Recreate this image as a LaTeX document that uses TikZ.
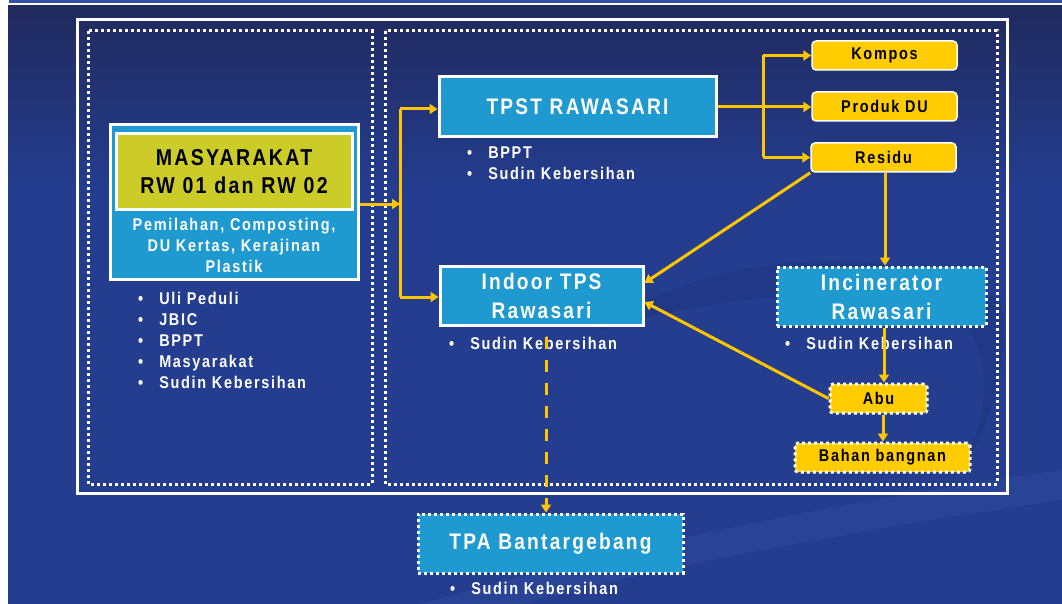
\documentclass[tikz,border=0pt]{standalone}
\usepackage{fontspec}
\setmainfont{Liberation Sans}[FakeStretch=0.85,LetterSpace=10]
\usetikzlibrary{arrows.meta,calc}
\definecolor{bgblue}{HTML}{243D8F}
\definecolor{bgtop}{HTML}{212A5E}
\definecolor{topbar}{HTML}{3652A6}
\definecolor{boxcyan}{HTML}{1E9AD0}
\definecolor{ylw}{HTML}{FFCC00}
\definecolor{olivey}{HTML}{CCCC29}
\definecolor{arrowy}{HTML}{FFC600}
\definecolor{swdark}{HTML}{1F3580}
\definecolor{swlight}{HTML}{2B4699}
\begin{document}
\begin{tikzpicture}[x=1pt,y=-1pt,
  fsmall/.style={font=\bfseries\fontsize{17}{21}\selectfont},
  fbig/.style={font=\bfseries\fontsize{22.5}{29}\selectfont},
  cyanbox/.style={draw=white,line width=3pt,fill=boxcyan,text=white,fbig,inner sep=0pt,align=center},
  dotline/.style={draw=white,line width=3pt,dash pattern=on 3pt off 3pt},
  dotcyan/.style={dotline,fill=boxcyan,text=white,fbig,inner sep=0pt,align=center},
  ybox/.style={draw=white,line width=1.5pt,fill=ylw,rounded corners=4pt,text=black,fsmall,inner sep=0pt},
  ydot/.style={dotline,fill=ylw,rounded corners=3pt,text=black,fsmall,inner sep=0pt},
  listtext/.style={text=white,fsmall,inner sep=0pt,anchor=west},
  arr/.style={draw=arrowy,line width=3pt,-{Triangle[length=8pt,width=10pt]}},
  ln/.style={draw=arrowy,line width=3pt},
  dashedarr/.style={draw=arrowy,line width=3pt,dash pattern=on 12pt off 11pt,-{Triangle[length=8pt,width=10pt]}}
]
\useasboundingbox (0,0) rectangle (1062,604);
% background
\fill[white] (0,0) rectangle (1062,604);
\fill[topbar] (9,0) rectangle (1062,3);
\fill[bgblue] (8,6) rectangle (1062,604);
\shade[top color=bgtop,bottom color=bgblue] (8,6) rectangle (1062,190);
% faint swooshes
\fill[swdark,opacity=0.6] (600,330) .. controls (700,250) and (900,240) .. (1000,300)
  .. controls (1010,330) and (1000,420) .. (960,470)
  .. controls (1000,400) and (990,320) .. (930,300)
  .. controls (850,280) and (700,300) .. (600,330) -- cycle;
\fill[swlight,opacity=0.8] (420,604) .. controls (650,540) and (850,500) .. (1062,470)
  -- (1062,500) .. controls (850,530) and (650,570) .. (520,604) -- cycle;
% frames
\draw[white,line width=3pt] (77,20) rectangle (1007,493);
\draw[dotline] (88,31) rectangle (372,484);
\draw[dotline] (385,31) rectangle (997,484);

% Masyarakat
\node[draw=white,line width=3pt,fill=boxcyan,minimum width=248pt,minimum height=154pt,inner sep=0pt] (masy) at (234,202) {};
\node[draw=white,line width=3pt,fill=olivey,minimum width=236pt,minimum height=76pt,inner sep=0pt,align=center,text=black,font=\bfseries\fontsize{23}{28}\selectfont] (masyhead) at (234,171.5) {MASYARAKAT\\RW 01 dan RW 02};
\node[text=white,fsmall,align=center,inner sep=0pt] (masysub) at (234,245) {Pemilahan, Composting,\\DU Kertas, Kerajinan\\Plastik};
\node[listtext] (masylist) at (138,342) {\begin{tabular}{@{}l@{\hspace{16pt}}l@{}}\textbullet & Uli Peduli\\ \textbullet & JBIC\\ \textbullet & BPPT\\ \textbullet & Masyarakat\\ \textbullet & Sudin Kebersihan\end{tabular}};

% TPST
\node[cyanbox,minimum width=277pt,minimum height=60pt] (tpst) at (577.5,107) {TPST RAWASARI};
\node[listtext] (tpstlist) at (467,165.3) {\begin{tabular}{@{}l@{\hspace{16pt}}l@{}}\textbullet & BPPT\\ \textbullet & Sudin Kebersihan\end{tabular}};

% Indoor
\node[cyanbox,minimum width=203pt,minimum height=59pt] (indoor) at (541.5,295.5) {Indoor TPS\\Rawasari};
\node[listtext] (indoorlist) at (449,344.8) {\begin{tabular}{@{}l@{\hspace{16pt}}l@{}}\textbullet & Sudin Kebersihan\end{tabular}};

% products
\node[ybox,minimum width=145pt,minimum height=29pt] (kompos) at (884.5,55.5) {Kompos};
\node[ybox,minimum width=145pt,minimum height=29pt] (produk) at (884.5,106.5) {Produk DU};
\node[ybox,minimum width=145pt,minimum height=29pt] (residu) at (883.5,157.5) {Residu};

% Incinerator
\node[dotcyan,minimum width=209pt,minimum height=59pt] (incin) at (881.5,296.5) {Incinerator\\Rawasari};
\node[listtext] (incinlist) at (785,344.8) {\begin{tabular}{@{}l@{\hspace{16pt}}l@{}}\textbullet & Sudin Kebersihan\end{tabular}};

\node[ydot,minimum width=97pt,minimum height=29pt] (abu) at (878.5,398.5) {Abu};
\node[ydot,minimum width=175pt,minimum height=29pt] (bahan) at (882.5,457.5) {Bahan bangnan};

% TPA
\node[dotcyan,minimum width=265pt,minimum height=59pt] (tpa) at (550.5,543.5) {TPA Bantargebang};
\node[listtext] (tpalist) at (450,589.8) {\begin{tabular}{@{}l@{\hspace{16pt}}l@{}}\textbullet & Sudin Kebersihan\end{tabular}};

% connectors
\coordinate (j1) at (400,204);
\coordinate (j1top) at (400,109);
\coordinate (j1bot) at (400,297);
\coordinate (j2) at (763,107);
\coordinate (dstart) at (546,337);
\draw[arr] ([yshift=-2]masy.east) -- ([yshift=-2]masy.east -| j1);
\draw[ln] (j1top) -- (j1bot);
\draw[arr] (j1top) -- (j1top -| tpst.west);
\draw[arr] (j1bot) -- (j1bot -| indoor.west);
\draw[arr] (tpst.east) -- (tpst.east -| produk.west);
\draw[ln] (j2 |- kompos) -- (j2 |- residu);
\draw[arr] (j2 |- kompos) -- (kompos.west);
\draw[arr] (j2 |- residu) -- (residu.west);
\draw[arr] (residu.south west) -- ([yshift=12.5]indoor.east);
\draw[arr] ([xshift=1.5]residu.south) -- ([xshift=1.5]residu.south |- incin.north);
\draw[arr] ([xshift=2.5]incin.south) -- ([xshift=2.5]incin.south |- abu.north);
\draw[arr] (abu.west) -- ([yshift=-6.5]indoor.east);
\draw[arr] ([xshift=4.5]abu.south) -- ([xshift=4.5]abu.south |- bahan.north);
\draw[dashedarr] (dstart) -- (dstart |- tpa.north);
\end{tikzpicture}
\end{document}
